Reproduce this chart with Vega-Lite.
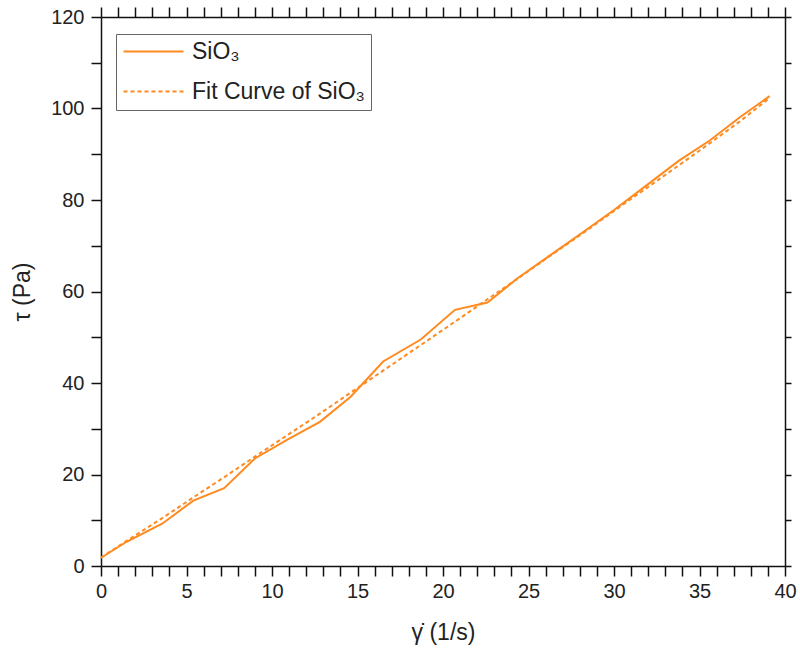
{
  "$schema": "https://vega.github.io/schema/vega-lite/v6.json",
  "width": 684,
  "height": 549,
  "autosize": "none",
  "padding": {"left": 101, "top": 17, "right": 15, "bottom": 96},
  "background": "white",
  "config": {
    "view": {"stroke": null},
    "font": "Liberation Sans",
    "axis": {
      "grid": false,
      "domainColor": "#111",
      "domainWidth": 1.5,
      "tickColor": "#111",
      "tickWidth": 1.5,
      "labelFont": "Liberation Sans",
      "labelColor": "#222",
      "labelOverlap": false,
      "labelFlush": false,
      "titleFont": "Liberation Sans",
      "titleFontWeight": "normal",
      "titleColor": "#222"
    }
  },
  "data": {
    "values": [
      {"x": 0.0, "y": 1.8, "series": "SiO₃"},
      {"x": 1.5, "y": 5.3, "series": "SiO₃"},
      {"x": 3.6, "y": 9.3, "series": "SiO₃"},
      {"x": 5.4, "y": 14.3, "series": "SiO₃"},
      {"x": 7.2, "y": 17.0, "series": "SiO₃"},
      {"x": 9.0, "y": 23.5, "series": "SiO₃"},
      {"x": 10.9, "y": 27.6, "series": "SiO₃"},
      {"x": 12.8, "y": 31.5, "series": "SiO₃"},
      {"x": 14.6, "y": 37.0, "series": "SiO₃"},
      {"x": 16.5, "y": 44.7, "series": "SiO₃"},
      {"x": 18.7, "y": 49.5, "series": "SiO₃"},
      {"x": 20.7, "y": 56.0, "series": "SiO₃"},
      {"x": 22.6, "y": 57.6, "series": "SiO₃"},
      {"x": 24.4, "y": 63.0, "series": "SiO₃"},
      {"x": 26.3, "y": 68.0, "series": "SiO₃"},
      {"x": 28.2, "y": 73.0, "series": "SiO₃"},
      {"x": 30.0, "y": 77.8, "series": "SiO₃"},
      {"x": 31.9, "y": 83.2, "series": "SiO₃"},
      {"x": 33.8, "y": 88.6, "series": "SiO₃"},
      {"x": 35.6, "y": 93.0, "series": "SiO₃"},
      {"x": 37.4, "y": 98.2, "series": "SiO₃"},
      {"x": 39.1, "y": 102.7, "series": "SiO₃"},
      {"x": 0.0, "y": 1.8, "series": "Fit Curve of SiO₃"},
      {"x": 1.5, "y": 5.5, "series": "Fit Curve of SiO₃"},
      {"x": 3.6, "y": 10.5, "series": "Fit Curve of SiO₃"},
      {"x": 5.4, "y": 15.0, "series": "Fit Curve of SiO₃"},
      {"x": 7.2, "y": 19.4, "series": "Fit Curve of SiO₃"},
      {"x": 9.0, "y": 23.9, "series": "Fit Curve of SiO₃"},
      {"x": 10.9, "y": 28.6, "series": "Fit Curve of SiO₃"},
      {"x": 12.8, "y": 33.3, "series": "Fit Curve of SiO₃"},
      {"x": 14.6, "y": 37.9, "series": "Fit Curve of SiO₃"},
      {"x": 16.5, "y": 42.7, "series": "Fit Curve of SiO₃"},
      {"x": 18.7, "y": 48.3, "series": "Fit Curve of SiO₃"},
      {"x": 20.7, "y": 53.4, "series": "Fit Curve of SiO₃"},
      {"x": 22.6, "y": 58.3, "series": "Fit Curve of SiO₃"},
      {"x": 24.4, "y": 62.9, "series": "Fit Curve of SiO₃"},
      {"x": 26.3, "y": 67.9, "series": "Fit Curve of SiO₃"},
      {"x": 28.2, "y": 72.8, "series": "Fit Curve of SiO₃"},
      {"x": 30.0, "y": 77.6, "series": "Fit Curve of SiO₃"},
      {"x": 31.9, "y": 82.6, "series": "Fit Curve of SiO₃"},
      {"x": 33.8, "y": 87.6, "series": "Fit Curve of SiO₃"},
      {"x": 35.6, "y": 92.4, "series": "Fit Curve of SiO₃"},
      {"x": 37.4, "y": 97.3, "series": "Fit Curve of SiO₃"},
      {"x": 39.1, "y": 102.3, "series": "Fit Curve of SiO₃"}
    ]
  },
  "resolve": {"axis": {"x": "independent", "y": "independent"}},
  "layer": [
    {
      "transform": [{"filter": "datum.series === 'SiO₃'"}],
      "mark": {"type": "line", "strokeWidth": 2},
      "encoding": {
        "x": {
          "field": "x", "type": "quantitative",
          "scale": {"domain": [0, 40], "nice": false},
          "axis": {
            "orient": "bottom",
            "values": [0,1,2,3,4,5,6,7,8,9,10,11,12,13,14,15,16,17,18,19,20,21,22,23,24,25,26,27,28,29,30,31,32,33,34,35,36,37,38,39,40],
            "tickSize": 10,
            "labelExpr": "datum.value % 5 === 0 ? datum.label : ''",
            "labelFontSize": 20,
            "labelPadding": 5,
            "title": "γ̇ (1/s)",
            "titleFontSize": 23,
            "titlePadding": 20,
            "encode": {"ticks": {"update": {"y2": {"signal": "datum.value % 5 === 0 ? 10 : 6"}}}}
          }
        },
        "y": {
          "field": "y", "type": "quantitative",
          "scale": {"domain": [0, 120], "nice": false},
          "axis": {
            "orient": "left",
            "values": [0,10,20,30,40,50,60,70,80,90,100,110,120],
            "tickSize": 10,
            "labelExpr": "datum.value % 20 === 0 ? datum.label : ''",
            "labelFontSize": 20,
            "labelPadding": 7,
            "title": "τ (Pa)",
            "titleFontSize": 23,
            "titlePadding": 16,
            "encode": {"ticks": {"update": {"x2": {"signal": "datum.value % 20 === 0 ? -10 : -6"}}}}
          }
        },
        "color": {
          "field": "series", "type": "nominal",
          "scale": {"domain": ["SiO₃", "Fit Curve of SiO₃"], "range": ["#ff8a1f", "#ff8a1f"]},
          "legend": {
            "title": null,
            "orient": "none",
            "legendX": 15,
            "legendY": 17,
            "symbolType": "M-1,0H5",
            "symbolSize": 400,
            "symbolStrokeWidth": 2,
            "labelFont": "Liberation Sans",
            "labelFontSize": 23,
            "labelColor": "#222",
            "labelOffset": 47,
            "labelLimit": 320,
            "rowPadding": 16,
            "padding": 6,
            "strokeColor": "#666",
            "fillColor": "white",
            "encode": {
              "symbols": {
                "update": {
                  "strokeDash": {"signal": "datum.value === 'SiO₃' ? [1, 0] : [4, 3]"}
                }
              }
            }
          }
        }
      }
    },
    {
      "transform": [{"filter": "datum.series !== 'SiO₃'"}],
      "mark": {"type": "line", "strokeWidth": 2, "strokeDash": [4, 3]},
      "encoding": {
        "x": {
          "field": "x", "type": "quantitative",
          "axis": {
            "orient": "top",
            "values": [0,1,2,3,4,5,6,7,8,9,10,11,12,13,14,15,16,17,18,19,20,21,22,23,24,25,26,27,28,29,30,31,32,33,34,35,36,37,38,39,40],
            "tickSize": 10,
            "labels": false,
            "title": null,
            "encode": {"ticks": {"update": {"y2": {"signal": "datum.value % 5 === 0 ? 10 : 6"}}}}
          }
        },
        "y": {
          "field": "y", "type": "quantitative",
          "axis": {
            "orient": "right",
            "values": [0,10,20,30,40,50,60,70,80,90,100,110,120],
            "tickSize": 6,
            "labels": false,
            "title": null,
            "encode": {"ticks": {"update": {"x2": {"signal": "-6"}}}}
          }
        },
        "color": {"field": "series", "type": "nominal"}
      }
    }
  ]
}
